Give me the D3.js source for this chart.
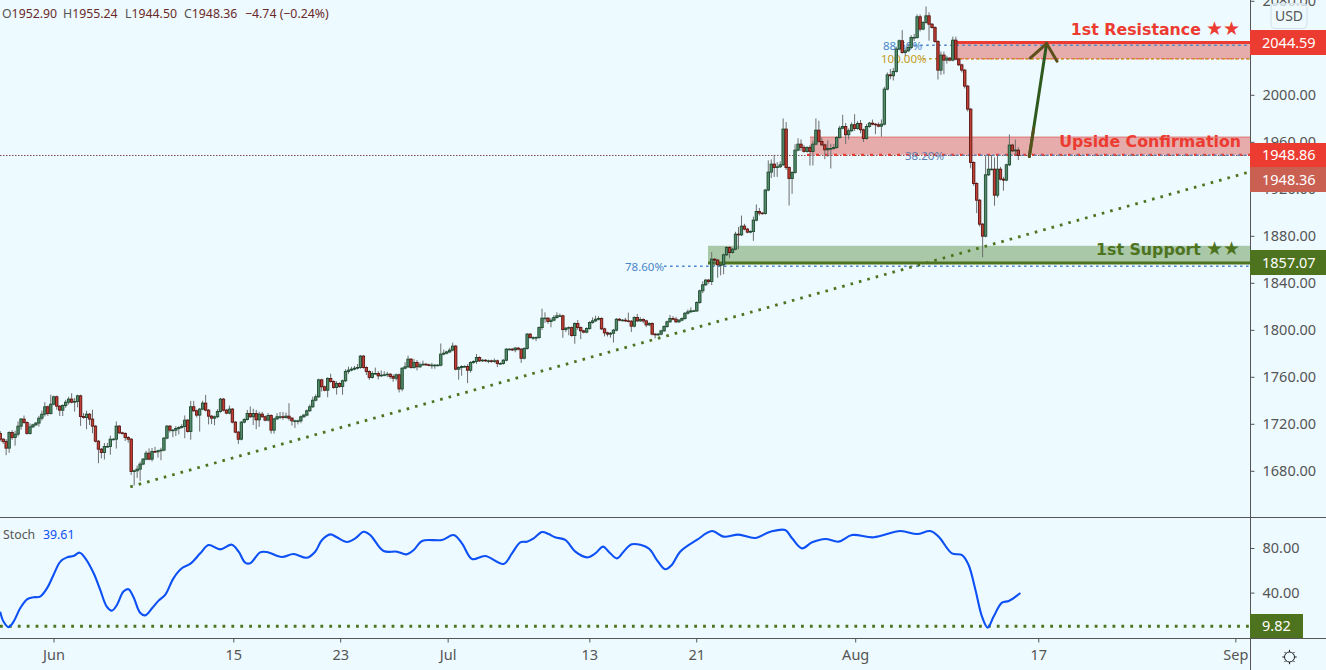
<!DOCTYPE html>
<html>
<head>
<meta charset="utf-8">
<title>Gold 4H</title>
<script src="https://d3js.org/d3.v7.min.js"></script>
<style>
  html, body { margin: 0; padding: 0; background: #edfaff; overflow: hidden; }
  text { font-family: "Noto Sans", sans-serif; }
  .axis path, .axis line { stroke: #555; }
  .axis text { fill: #555; font-size: 14.5px; font-family: "Noto Sans", sans-serif; }
</style>
</head>
<body>
<svg id="chart" width="1326" height="670"></svg>
<script>
// 4h closes
const closes = [
  1706.9,1705.0,1699.3,1712.6,1708.4,1711.2,1718.0,1724.0,1721.1,1711.8,
  1717.4,1719.1,1720.6,1724.8,1728.2,1734.5,1728.8,1736.7,1743.0,1735.0,
  1731.6,1735.6,1738.4,1741.0,1738.4,1739.0,1743.8,1726.2,1725.4,1728.2,
  1724.0,1718.0,1705.2,1698.4,1695.6,1700.7,1700.7,1706.9,1706.9,1718.0,
  1712.3,1711.8,1708.4,1706.9,1679.4,1680.0,1681.4,1685.7,1689.9,1695.0,
  1689.9,1696.4,1696.2,1697.0,1697.6,1707.8,1718.0,1714.6,1714.6,1716.0,
  1716.9,1717.7,1723.1,1713.5,1734.5,1731.1,1727.4,1732.5,1737.6,1731.6,
  1726.5,1724.8,1726.0,1730.5,1741.0,1731.6,1729.1,1732.5,1721.4,1712.9,
  1706.9,1721.4,1723.7,1728.8,1726.0,1728.8,1723.4,1728.2,1726.0,1723.1,
  1727.1,1714.6,1724.2,1726.0,1726.0,1725.4,1726.5,1724.8,1722.5,1722.5,
  1722.5,1726.0,1727.4,1731.1,1734.5,1740.1,1743.0,1757.4,1751.5,1748.6,
  1758.6,1756.0,1750.9,1754.3,1751.8,1756.6,1764.5,1765.7,1766.5,1767.3,
  1767.9,1777.6,1767.9,1764.5,1759.4,1762.8,1762.8,1760.8,1761.4,1761.7,
  1762.2,1760.2,1758.8,1761.7,1749.7,1767.3,1768.5,1775.0,1767.9,1772.2,
  1768.5,1770.2,1770.7,1770.2,1769.9,1769.9,1769.9,1769.9,1779.3,1780.1,
  1781.2,1782.7,1786.1,1766.5,1767.9,1768.8,1768.8,1765.6,1772.2,1773.0,
  1776.4,1773.6,1774.1,1773.6,1773.6,1773.0,1773.6,1771.3,1771.3,1774.1,
  1783.5,1783.5,1782.9,1784.4,1783.5,1775.8,1784.1,1796.3,1793.4,1793.4,
  1793.4,1801.9,1809.9,1809.9,1807.1,1808.2,1810.5,1811.9,1811.9,1800.2,
  1801.4,1801.9,1795.1,1805.4,1801.9,1799.1,1798.0,1801.1,1806.2,1807.6,
  1809.0,1809.6,1800.8,1797.4,1796.3,1797.1,1799.7,1809.0,1808.2,1808.2,
  1807.6,1807.3,1803.1,1810.5,1807.6,1808.8,1807.6,1804.2,1805.4,1796.3,
  1795.7,1796.3,1799.1,1802.8,1806.8,1809.6,1809.0,1806.8,1808.2,1809.6,
  1814.1,1815.3,1816.1,1816.1,1823.2,1833.2,1838.3,1842.3,1841.1,1860.1,
  1859.3,1855.3,1855.3,1863.8,1870.1,1865.8,1868.6,1881.4,1880.8,1888.2,
  1885.7,1883.1,1883.7,1893.3,1900.7,1899.3,1899.0,1918.9,1934.2,1941.0,
  1938.1,1938.7,1940.4,1970.8,1938.1,1928.8,1933.9,1952.9,1958.0,1955.2,
  1951.8,1955.2,1951.8,1958.0,1969.9,1960.3,1957.4,1953.2,1954.3,1954.3,
  1955.2,1963.7,1971.6,1973.0,1966.0,1969.4,1974.5,1971.3,1975.6,1970.2,
  1962.8,1973.0,1975.9,1975.0,1974.5,1973.3,1975.0,2004.8,2017.0,2016.2,
  2019.9,2038.9,2046.0,2036.0,2037.4,2040.3,2048.8,2048.8,2066.4,2055.9,
  2061.6,2067.2,2060.1,2057.3,2045.4,2021.0,2033.8,2029.5,2031.2,2029.5,
  2046.5,2030.4,2025.5,2021.0,2007.4,1987.8,1942.4,1924.5,1910.3,1889.9,
  1879.7,1931.9,1936.7,1936.7,1914.6,1936.7,1928.2,1927.4,1940.4,1957.2,
  1952.3,1952.9,1948.36
];
const firstOpen = 1711.8;
// how far each wick stands above / below the body, in dollars
const wickUp = [
  2,1,2,1,2,3,4,1,3,1, 3,1,1,2,3,4,1,8,1,1, 1,1,2,2,5,3,1,1,3,3, 1,8,1,1,1,3,3,3,1,4,
  1,1,1,1,1,1,3,2,1,2, 4,3,4,1,2,1,1,1,1,2, 1,2,4,1,5,5,1,1,2,7, 1,1,1,2,1,1,1,3,1,1,
  1,1,1,3,6,4,3,2,2,1, 2,1,1,3,4,4,3,11,1,1, 1,1,1,1,2,3,2,1,1,1, 1,4,1,2,1,1,2,3,2,2,
  3,1,1,1,1,2,5,2,4,3, 2,1,2,1,1,1,4,3,1,3, 2,2,3,1,1,2,1,1,9,3, 1,2,3,1,1,1,1,2,1,1,
  3,1,1,1,1,1,2,1,1,1, 1,1,1,1,1,1,1,1,1,1, 1,1,8,5,1,2,2,3,2,1, 1,1,1,1,3,1,1,1,1,3,
  3,2,1,1,1,1,1,1,1,1, 2,7,1,1,3,2,1,1,1,1, 1,1,1,1,1,3,2,2,1,1, 1,2,3,1,1,1,3,1,1,6,
  1,1,1,1,1,1,1,2,6,9, 2,1,1,3,6,3,1,1,10,4, 8,4,3,9,6,1,1,5,5,4, 2,1,2,3,10,8,3,1,7,4,
  3,1,2,10,3,2,2,9,2,3, 1,2,1,3,1,2,4,2,2,5, 3,2,1,9,2,3,2,3,2,2, 1,8,3,1,1,1,3,3,2,1,
  3,3,1,1,1,1,1,1,1,1, 1,16,12,12,10,12,2,2,1,9, 1,9,2.34
];
const wickDown = [
  2,2,6,4,2,7,2,3,1,1, 1,1,1,3,2,2,2,1,1,3, 5,5,2,2,1,8,5,8,1,10, 5,6,1,12,5,6,1,7,1,8,
  1,1,3,3,3,12,6,10,1,1, 1,2,1,5,8,1,1,2,6,5, 5,1,10,1,7,1,2,14,1,1, 7,5,6,1,1,1,1,1,1,1,
  4,1,1,1,1,7,8,6,1,1, 1,3,3,1,2,2,1,2,4,6, 3,2,1,1,1,1,1,1,4,1, 6,1,1,6,1,7,1,2,1,1,
  1,1,1,3,2,1,1,3,1,1, 2,2,3,2,3,2,1,1,1,1, 3,1,1,1,1,3,3,1,1,1, 1,1,1,1,9,7,1,11,2,1,
  2,1,1,1,2,1,1,3,1,1, 1,1,1,2,1,4,1,1,1,2, 3,1,2,4,2,5,1,1,1,7, 2,6,1,7,2,7,1,1,1,1,
  1,1,1,3,2,3,8,1,1,1, 1,1,5,1,1,1,2,2,1,1, 3,1,1,1,1,1,1,1,1,1, 1,1,1,1,1,1,2,1,2,3,
  5,11,9,8,1,5,1,1,12,1, 1,1,1,8,1,2,1,1,1,5, 8,8,1,1,2,23,13,1,1,3, 1,1,12,12,1,1,1,8,6,17,
  1,1,1,1,8,4,1,2,1,3, 3,1,1,1,8,1,9,1,1,3, 4,1,1,1,3,1,1,3,1,2, 1,1,14,1,1,8,4,12,3,1,
  1,1,1,2,2,2,5,2,11,2, 18,1,1,1,9,2,1,9,1,1, 1,4,3.86
];

// stochastic, bar position and value
const stochBar = [0,1.1,2.8,4.5,6.7,9,11.2,13.4,15.7,17.9,20.2,22.4,24.6,26.7,28.6,31.4,33.6,35.8,37.5,39.2,41.4,43.1,44.8,47,48.7,51,53.2,55.4,58.2,61,63.8,67.2,70,73.9,77.8,80.1,82.3,84,87.3,89.6,94.6,98.5,103,105.8,108.1,110.9,113.1,116.5,119.3,122.1,124.3,128.8,133.3,136.4,138.9,141.7,148.4,152.3,155.1,158.5,162.9,169.1,171.9,174.7,176.9,179.2,182,184.2,186.4,189.8,193.2,197.1,199.9,202.5,204.4,207.2,209.4,212.2,217.8,220.6,223.4,225.6,228.4,234,239.1,243,248,253.6,258.7,263.7,266,269.3,272.7,277.2,281.6,286.1,293.4,302.4,308,312.4,315.2,319.7,323.1,325.3,327.6,329.8,331.7,333.7,336.5,338.8,342.7];
const stochVal = [22.9,14,9,14,25.9,34,35.8,36.4,43.8,55.8,67.8,71.6,72.8,75.8,70.7,57.3,42.4,27.4,23.8,28.9,40.9,43,35.8,22,19.6,25.9,32.8,37.9,52.8,61.8,65.7,75.2,82.7,78.8,83,76.7,66.9,66.3,76.1,76.4,71.9,74.6,71.3,76.7,87.2,92.2,89.6,85.4,88.7,94.6,91.6,77.3,76.7,74.3,78.2,86.3,87.2,91.6,84.2,70.1,72.8,65.7,75.2,85.1,85.7,88.7,94.3,92.5,89.6,87.2,76.7,71.6,75.2,81.2,76.7,70.7,76.7,83.3,79.7,69.2,60.9,64.8,76.7,87.2,95.2,90.2,92,89,94.6,96.1,88.7,79.7,85.1,88.1,85.7,91.6,89.6,95.2,92.5,95.2,90.2,75.2,73.7,64.8,42.4,18.5,8.6,18.5,31,32.5,39.61];

const priceTicks = [2080,2000,1960,1920,1880,1840,1800,1760,1720,1680];
const stochTicks = [80,40];
const dateBars = [17.9,78.3,114.2,150.3,197.9,233.8,287.2,348.7,414.9];
const dateLabels = ["Jun","15","23","Jul","13","21","Aug","17","Sep"];

const resistance = 2044.59, resistanceBase = 2030.6;
const confirm = 1948.86, confirmTop = 1964.0;
const support = 1857.07, supportTop = 1871.5;
const lastPrice = 1948.36;
const stochLevel = 9.82;
const trendBars = [43.7,419.9], trendPrices = [1666.4,1934.5];
const fibLevels = [
  {name:"88.60%", price:2042.2, from:303, label:[883,46], color:"#4a86c8"},
  {name:"100.00%", price:2030.6, from:310, label:[881,59], color:"#c49a22"},
  {name:"38.20%", price:1948.5, from:317, label:[905,156], color:"#5f7fb0"},
  {name:"78.60%", price:1854.0, from:223, label:[625,267], color:"#4a86c8"}
];

const colors = {bg:"#edfaff", red:"#ec3b30", zoneRed:"#e6acac", zoneGreen:"#a8c8a8", green:"#4e731e", wick:"#6e6e6e"};

const svg = d3.select("#chart");
const W = 1326, axisX = 1250.5;

const x = d3.scaleLinear([0,343],[0.2,0.2+343*2.977]);
const y = d3.scaleLinear([2000,1680],[94.8,470.8]);
const yS = d3.scaleLinear([80,40],[548,592.6]);

svg.append("defs").append("clipPath").attr("id","mainClip")
  .append("rect").attr("x",0).attr("y",0).attr("width",axisX).attr("height",517);

svg.append("rect").attr("width",W).attr("height",670).attr("fill",colors.bg);

const main = svg.append("g").attr("clip-path","url(#mainClip)");

// zones
main.append("rect").attr("x",951).attr("y",y(resistance)).attr("width",axisX-951)
  .attr("height",y(resistanceBase)-y(resistance)).attr("fill",colors.zoneRed);
main.append("rect").attr("x",810).attr("y",y(confirmTop)).attr("width",axisX-810)
  .attr("height",y(confirm)-y(confirmTop)).attr("fill",colors.zoneRed);
main.append("line").attr("x1",810).attr("x2",axisX).attr("y1",y(confirmTop)).attr("y2",y(confirmTop))
  .attr("stroke","#e07070").attr("stroke-width",1);
main.append("rect").attr("x",708).attr("y",y(supportTop)).attr("width",axisX-708)
  .attr("height",y(support)-y(supportTop)).attr("fill",colors.zoneGreen);

// last price line
main.append("line").attr("x1",0).attr("x2",axisX).attr("y1",y(lastPrice)).attr("y2",y(lastPrice))
  .attr("stroke","#7d4a4a").attr("stroke-width",1).attr("stroke-dasharray","1.5 1.5");

// zone edges
main.append("line").attr("x1",951).attr("x2",axisX).attr("y1",y(resistance)).attr("y2",y(resistance))
  .attr("stroke",colors.red).attr("stroke-width",3);
main.append("line").attr("x1",951).attr("x2",axisX).attr("y1",y(resistanceBase)).attr("y2",y(resistanceBase))
  .attr("stroke",colors.red).attr("stroke-width",1).attr("stroke-dasharray","3 2");
main.append("line").attr("x1",807).attr("x2",axisX).attr("y1",y(confirm)).attr("y2",y(confirm))
  .attr("stroke",colors.red).attr("stroke-width",2.2).attr("stroke-dasharray","3 6");
main.append("line").attr("x1",708).attr("x2",axisX).attr("y1",y(support)+0.3).attr("y2",y(support)+0.3)
  .attr("stroke",colors.green).attr("stroke-width",3);

// fib levels
fibLevels.forEach(f => {
  main.append("line").attr("x1",x(f.from)).attr("x2",axisX).attr("y1",y(f.price)).attr("y2",y(f.price))
    .attr("stroke",f.color).attr("stroke-width",1.5).attr("stroke-dasharray","2.5 3.5");
  main.append("text").attr("x",f.label[0]).attr("y",f.label[1]).attr("dy","0.35em")
    .attr("font-size",11.5).attr("fill",f.color).text(f.name);
});

// candles
const candles = closes.map((c,i) => {
  const o = i ? closes[i-1] : firstOpen;
  return {i, o, c, h: Math.max(o,c)+wickUp[i], l: Math.min(o,c)-wickDown[i]};
});
const bars = main.append("g").selectAll("g").data(candles).join("g");
bars.append("line")
  .attr("x1",d=>x(d.i)).attr("x2",d=>x(d.i)).attr("y1",d=>y(d.h)).attr("y2",d=>y(d.l))
  .attr("stroke",colors.wick).attr("stroke-width",1);
bars.append("rect")
  .attr("x",d=>x(d.i)-1.2).attr("width",2.4)
  .attr("y",d=>y(Math.max(d.o,d.c))).attr("height",d=>Math.max(0.6,Math.abs(y(d.o)-y(d.c))))
  .attr("fill",d=>d.c<d.o?"#c23f34":"#528c6c")
  .attr("stroke",d=>d.c<d.o?"#5c1512":"#1f4a2e").attr("stroke-width",0.9);

// trend line
main.append("line")
  .attr("x1",x(trendBars[0])).attr("y1",y(trendPrices[0])).attr("x2",x(trendBars[1])).attr("y2",y(trendPrices[1]))
  .attr("stroke",colors.green).attr("stroke-width",2.8).attr("stroke-dasharray","2.6 6.1");

// arrow, in bar and price terms
const arrowBars = [345.7,351.5], arrowPrices = [1947.5,2043.6];
const headBars = [346.0,355.0], headPrices = [2031.3,2028.5];
main.append("line")
  .attr("x1",x(arrowBars[0])).attr("y1",y(arrowPrices[0])).attr("x2",x(arrowBars[1])).attr("y2",y(arrowPrices[1]))
  .attr("stroke","#2f5a1e").attr("stroke-width",3).attr("stroke-linecap","round");
main.append("line")
  .attr("x1",x(arrowBars[0])).attr("y1",y(arrowPrices[0])).attr("x2",x(345.7+1.45)).attr("y2",y(1947.5+24))
  .attr("stroke","#5c4f1c").attr("stroke-width",3).attr("stroke-linecap","round").attr("opacity",0.8);
main.append("path")
  .attr("d",d3.line()([[x(headBars[0]),y(headPrices[0])],[x(arrowBars[1]),y(arrowPrices[1])],[x(headBars[1]),y(headPrices[1])]]))
  .attr("fill","none").attr("stroke","#5c4f1c").attr("stroke-width",3).attr("stroke-linecap","round");

// zone captions, the stars are set larger than the words
[["1st Resistance","★★",1240,29,colors.red],["Upside Confirmation","",1241,141,colors.red],["1st Support","★★",1240,249,colors.green]]
  .forEach(t => {
    const cap = main.append("text").attr("x",t[2]).attr("y",t[3]).attr("dy","0.35em").attr("text-anchor","end")
      .style("font-family","'DejaVu Sans'").attr("font-weight","bold").attr("font-size",15.8).attr("fill",t[4]);
    cap.append("tspan").text(t[0]);
    if (t[1]) cap.append("tspan").attr("dx",5).attr("font-size",19).text(t[1]);
  });

// OHLC header
const head = svg.append("text").attr("x",2).attr("y",14).attr("dy","0.35em").attr("font-size",12.3);
[["O","1952.90"],["H","1955.24"],["L","1944.50"],["C","1948.36"]].forEach((p,i) => {
  head.append("tspan").attr("x",[2,63,125,184][i]).attr("fill","#555").text(p[0]);
  head.append("tspan").attr("fill","#6b2a2a").text(p[1]);
});
head.append("tspan").attr("x",245).attr("fill","#6b2a2a").text("−4.74 (−0.24%)");

// stoch pane
svg.append("line").attr("x1",0).attr("x2",axisX).attr("y1",yS(stochLevel)).attr("y2",yS(stochLevel))
  .attr("stroke",colors.green).attr("stroke-width",2.8).attr("stroke-dasharray","2.8 6.1");
svg.append("path")
  .attr("d",d3.line().x((d,i)=>x(stochBar[i])).y(d=>yS(d)).curve(d3.curveCatmullRom.alpha(0.5))(stochVal))
  .attr("fill","none").attr("stroke","#0d50f5").attr("stroke-width",2.1);
const sl = svg.append("text").attr("x",3).attr("y",534.5).attr("dy","0.35em").attr("font-size",12.3);
sl.append("tspan").attr("fill","#555").text("Stoch");
sl.append("tspan").attr("x",43).attr("fill","#0d50f5").text("39.61");

// axes
svg.append("g").attr("class","axis").attr("transform",`translate(${axisX},0)`)
  .call(d3.axisRight(y).tickValues(priceTicks).tickSize(4).tickPadding(8).tickFormat(d3.format(".2f")))
  .call(g=>g.select(".domain").remove());
svg.append("g").attr("class","axis").attr("transform",`translate(${axisX},0)`)
  .call(d3.axisRight(yS).tickValues(stochTicks).tickSize(4).tickPadding(8).tickFormat(d3.format(".2f")))
  .call(g=>g.select(".domain").remove());
svg.append("g").attr("class","axis").attr("transform","translate(0,638.5)")
  .call(d3.axisBottom(x).tickValues(dateBars).tickSize(4).tickPadding(7).tickFormat((d,i)=>dateLabels[i]))
  .call(g=>g.select(".domain").remove());

// frame lines
[[0,W,517.5,517.5],[0,W,638.5,638.5],[axisX,axisX,0,670]].forEach(l =>
  svg.append("line").attr("x1",l[0]).attr("x2",l[1]).attr("y1",l[2]).attr("y2",l[3]).attr("stroke","#555").attr("stroke-width",1));

// price tags
const tagData = [
  {v:"2044.59", top:30, h:25, w:76, fill:colors.red},
  {v:"1948.86", top:143, h:24, w:76, fill:colors.red},
  {v:"1948.36", top:167, h:25, w:76, fill:"#c96052"},
  {v:"1857.07", top:250, h:25, w:76, fill:colors.green},
  {v:"9.82", top:614, h:24, w:53, fill:colors.green}
];
const tags = svg.append("g").selectAll("g").data(tagData).join("g");
tags.append("rect").attr("x",1250).attr("y",d=>d.top).attr("width",d=>d.w).attr("height",d=>d.h).attr("fill",d=>d.fill);
tags.append("text").attr("x",1262).attr("y",d=>d.top+d.h/2).attr("dy","0.35em").attr("font-size",14.5).attr("fill","#fff").text(d=>d.v);

// currency box
svg.append("rect").attr("x",1271).attr("y",3.5).attr("width",36).attr("height",25).attr("rx",4)
  .attr("fill",colors.bg).attr("fill-opacity",0.75).attr("stroke","#d5e0e8");
svg.append("text").attr("x",1289).attr("y",16).attr("dy","0.35em").attr("text-anchor","middle")
  .attr("font-size",14).attr("fill","#555").text("USD");

// settings icon
const gear = svg.append("g").attr("transform","translate(1289.5,657)").attr("stroke","#222").attr("fill","none");
gear.append("circle").attr("r",5);
d3.range(8).forEach(k => {
  const a = k*Math.PI/4;
  gear.append("line").attr("x1",5*Math.cos(a)).attr("y1",5*Math.sin(a)).attr("x2",7.2*Math.cos(a)).attr("y2",7.2*Math.sin(a));
});
</script>
</body>
</html>
